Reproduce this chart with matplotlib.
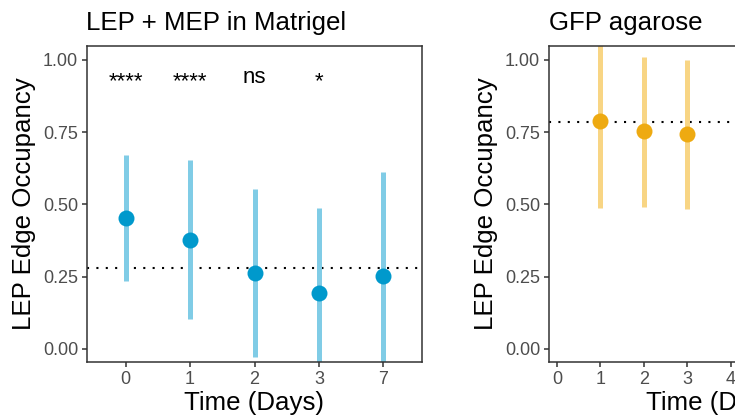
import matplotlib
matplotlib.use("Agg")
import matplotlib.pyplot as plt

plt.rcParams['font.family'] = ['Liberation Sans', 'DejaVu Sans']

# Left panel data (LEP + MEP in Matrigel)
days_left = ["0", "1", "2", "3", "7"]
mean_left = [0.453, 0.377, 0.264, 0.195, 0.253]
lo_left = [0.235, 0.103, -0.027, -0.12, -0.12]
hi_left = [0.671, 0.652, 0.554, 0.487, 0.611]
sig_left = ["****", "****", "ns", "*", ""]
ref_left = 0.279

# Right panel data (GFP agarose)
days_right = [1, 2, 3]
mean_right = [0.790, 0.754, 0.743]
lo_right = [0.487, 0.491, 0.484]
hi_right = [1.10, 1.01, 1.00]
ref_right = 0.784

yticks = [0.0, 0.25, 0.5, 0.75, 1.0]
ytick_labels = ["0.00", "0.25", "0.50", "0.75", "1.00"]

W, H = 735, 419
fig = plt.figure(figsize=(W / 100, H / 100), dpi=100)

def px_axes(x0, y0, x1, y1):
    return fig.add_axes([x0 / W, 1 - y1 / H, (x1 - x0) / W, (y1 - y0) / H])

blue_pt = "#0099CC"
blue_bar = "#80CCE6"
orange_pt = "#EEAA11"
orange_bar = "#F8D584"
tick_gray = "#4D4D4D"
dots = (0, (1, 3.5))

def style(ax):
    for s in ax.spines.values():
        s.set_color("#333333")
        s.set_linewidth(1.1)
    ax.tick_params(axis="both", colors="#333333", labelcolor=tick_gray,
                   labelsize=13, length=3.8, width=1.1, pad=2.5)
    ax.set_ylim(-0.045, 1.048)
    ax.set_yticks(yticks)
    ax.set_yticklabels(ytick_labels)
    ax.set_ylabel("LEP Edge Occupancy", fontsize=18.6, labelpad=5)
    ax.set_xlabel("Time (Days)", fontsize=18.6, labelpad=2)

# Left
ax1 = px_axes(87, 46, 422, 362)
xs = list(range(1, len(days_left) + 1))
ax1.axhline(ref_left, color="black", linestyle=dots, linewidth=1.5, zorder=1)
ax1.vlines(xs, lo_left, hi_left, color=blue_bar, linewidth=3.6, zorder=2)
ax1.plot(xs, mean_left, "o", color=blue_pt, markersize=11.5, markeredgewidth=0, zorder=3)
for x, s in zip(xs, sig_left):
    if s:
        ax1.text(x, 0.94 if s == "ns" else 0.925, s, ha="center", va="center", fontsize=16)
ax1.set_xlim(0.4, 5.6)
ax1.set_xticks(xs)
ax1.set_xticklabels(days_left)
ax1.set_title("LEP + MEP in Matrigel", fontsize=18.6, loc="left", pad=11.5, x=-0.003)
style(ax1)

# Right (extends beyond figure edge)
ax2 = px_axes(549, 46, 884, 362)
ax2.axhline(ref_right, color="black", linestyle=dots, linewidth=1.5, zorder=1)
ax2.vlines(days_right, lo_right, hi_right, color=orange_bar, linewidth=3.6, zorder=2)
ax2.plot(days_right, mean_right, "o", color=orange_pt, markersize=11.5, markeredgewidth=0, zorder=3)
ax2.set_xlim(-0.184, 7.53)
ax2.set_xticks(range(0, 8))
ax2.set_title("GFP agarose", fontsize=18.6, loc="left", pad=11.5, x=0)
style(ax2)

fig.savefig("out.png", dpi=100)
